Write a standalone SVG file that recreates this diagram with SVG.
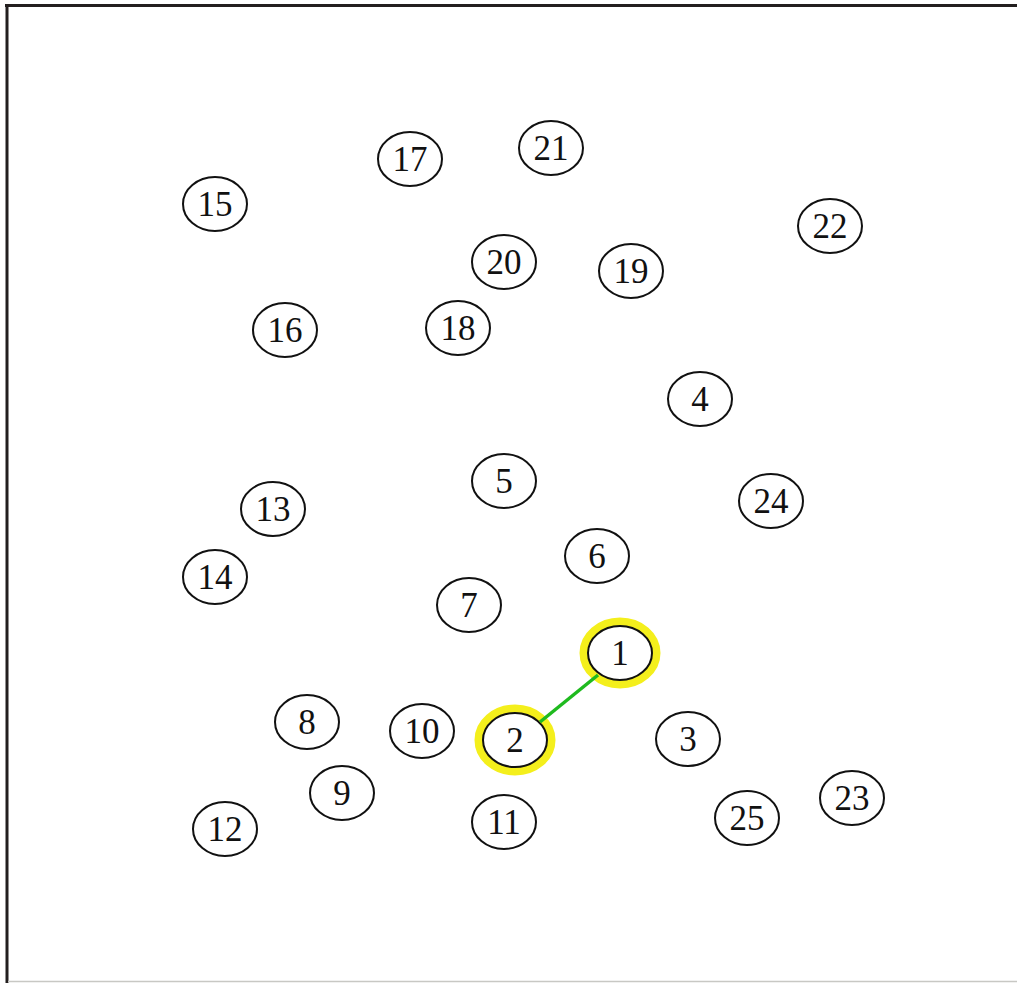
<svg xmlns="http://www.w3.org/2000/svg" width="1017" height="983" viewBox="0 0 1017 983">
<style>
.n ellipse{fill:none;stroke:#111;stroke-width:2}
.n text{font-family:"Liberation Serif","Times New Roman",serif;font-size:35px;fill:#111;text-anchor:middle;dominant-baseline:central}
.n ellipse.hl{fill:none;stroke:#f4ef1c;stroke-width:9}
</style>
<rect width="1017" height="983" fill="#fff"/>
<line x1="5" y1="5.5" x2="1017" y2="5.5" stroke="#231f1f" stroke-width="3"/>
<line x1="7" y1="4" x2="7" y2="983" stroke="#231f1f" stroke-width="3"/>
<line x1="8" y1="981.5" x2="1017" y2="981.5" stroke="#c8c8c4" stroke-width="1.5"/>
<g id="node1" class="n"><ellipse class="hl" cx="620" cy="653" rx="36" ry="31"/><ellipse cx="620" cy="653" rx="32" ry="27"/><text x="620" y="653">1</text></g>
<g id="node2" class="n"><ellipse class="hl" cx="515" cy="740" rx="36" ry="31"/><ellipse cx="515" cy="740" rx="32" ry="27"/><text x="515" y="740">2</text></g>
<g id="node3" class="n"><ellipse cx="688" cy="739" rx="32" ry="27"/><text x="688" y="739">3</text></g>
<g id="node4" class="n"><ellipse cx="700" cy="399" rx="32" ry="27"/><text x="700" y="399">4</text></g>
<g id="node5" class="n"><ellipse cx="504" cy="481" rx="32" ry="27"/><text x="504" y="481">5</text></g>
<g id="node6" class="n"><ellipse cx="597" cy="556" rx="32" ry="27"/><text x="597" y="556">6</text></g>
<g id="node7" class="n"><ellipse cx="469" cy="605" rx="32" ry="27"/><text x="469" y="605">7</text></g>
<g id="node8" class="n"><ellipse cx="307" cy="722" rx="32" ry="27"/><text x="307" y="722">8</text></g>
<g id="node9" class="n"><ellipse cx="342" cy="793" rx="32" ry="27"/><text x="342" y="793">9</text></g>
<g id="node10" class="n"><ellipse cx="422" cy="731" rx="32" ry="27"/><text x="422" y="731">10</text></g>
<g id="node11" class="n"><ellipse cx="504" cy="822" rx="32" ry="27"/><text x="504" y="822">11</text></g>
<g id="node12" class="n"><ellipse cx="225" cy="829" rx="32" ry="27"/><text x="225" y="829">12</text></g>
<g id="node13" class="n"><ellipse cx="273" cy="509" rx="32" ry="27"/><text x="273" y="509">13</text></g>
<g id="node14" class="n"><ellipse cx="215" cy="577" rx="32" ry="27"/><text x="215" y="577">14</text></g>
<g id="node15" class="n"><ellipse cx="215" cy="204" rx="32" ry="27"/><text x="215" y="204">15</text></g>
<g id="node16" class="n"><ellipse cx="285" cy="330" rx="32" ry="27"/><text x="285" y="330">16</text></g>
<g id="node17" class="n"><ellipse cx="410" cy="159" rx="32" ry="27"/><text x="410" y="159">17</text></g>
<g id="node18" class="n"><ellipse cx="458" cy="328" rx="32" ry="27"/><text x="458" y="328">18</text></g>
<g id="node19" class="n"><ellipse cx="631" cy="271" rx="32" ry="27"/><text x="631" y="271">19</text></g>
<g id="node20" class="n"><ellipse cx="504" cy="262" rx="32" ry="27"/><text x="504" y="262">20</text></g>
<g id="node21" class="n"><ellipse cx="551" cy="148" rx="32" ry="27"/><text x="551" y="148">21</text></g>
<g id="node22" class="n"><ellipse cx="830" cy="226" rx="32" ry="27"/><text x="830" y="226">22</text></g>
<g id="node23" class="n"><ellipse cx="852" cy="798" rx="32" ry="27"/><text x="852" y="798">23</text></g>
<g id="node24" class="n"><ellipse cx="771" cy="501" rx="32" ry="27"/><text x="771" y="501">24</text></g>
<g id="node25" class="n"><ellipse cx="747" cy="818" rx="32" ry="27"/><text x="747" y="818">25</text></g>
<g id="connectors">
<line x1="598" y1="675" x2="540" y2="722" stroke="#1fba1f" stroke-width="3.5"/>
</g>
</svg>
